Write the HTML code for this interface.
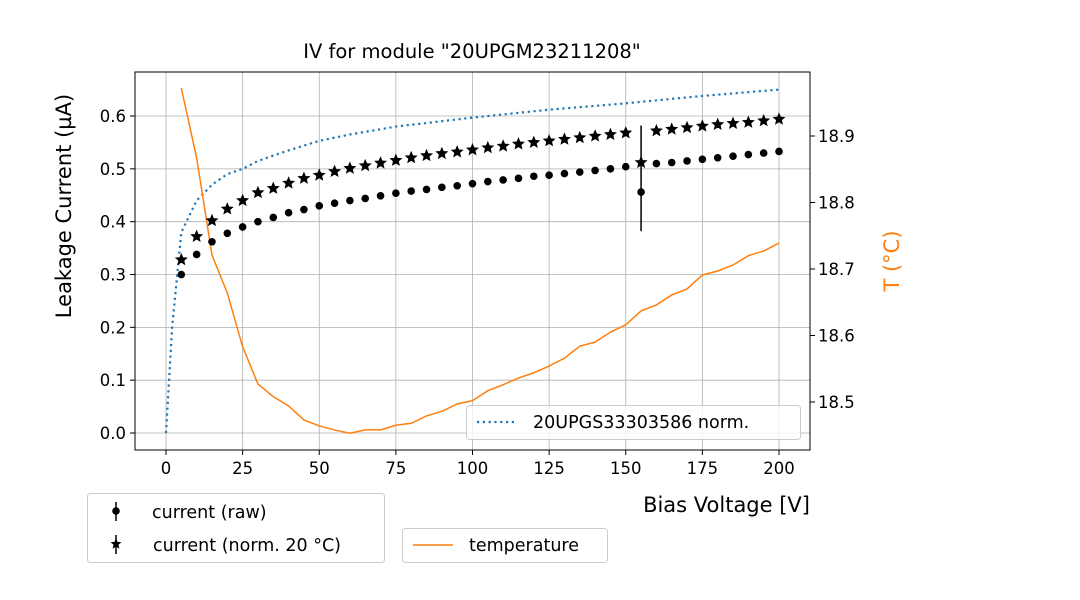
<!DOCTYPE html>
<html><head><meta charset="utf-8"><style>
body{margin:0;background:#fff}
svg{display:block;font-family:"DejaVu Sans","Liberation Sans",sans-serif}
</style></head><body>
<svg id="c" width="1080" height="600" xmlns="http://www.w3.org/2000/svg"></svg>
<script>
const voltages=[5,10,15,20,25,30,35,40,45,50,55,60,65,70,75,80,85,90,95,100,105,110,115,120,125,130,135,140,145,150,155,160,165,170,175,180,185,190,195,200];
const rawCurrent=[0.300,0.338,0.362,0.378,0.390,0.400,0.408,0.417,0.423,0.430,0.435,0.440,0.444,0.449,0.454,0.458,0.461,0.465,0.468,0.472,0.476,0.479,0.482,0.486,0.488,0.491,0.494,0.497,0.500,0.504,0.456,0.510,0.512,0.515,0.518,0.521,0.524,0.527,0.530,0.533];
const normCurrent=[0.328,0.372,0.402,0.424,0.440,0.455,0.463,0.473,0.482,0.488,0.495,0.501,0.506,0.511,0.516,0.521,0.525,0.529,0.532,0.536,0.540,0.543,0.547,0.550,0.553,0.556,0.559,0.562,0.565,0.568,0.512,0.572,0.575,0.578,0.581,0.584,0.586,0.588,0.591,0.594];
const normErr=[0,0,0,0,0,0,0,0,0,0,0,0,0,0,0,0,0,0,0,0,0,0,0,0,0,0,0,0,0,0,0.10,0,0,0,0,0,0,0,0,0];
const temperature=[18.972,18.867,18.721,18.664,18.583,18.527,18.508,18.494,18.473,18.464,18.458,18.453,18.458,18.458,18.465,18.468,18.479,18.486,18.497,18.502,18.517,18.526,18.536,18.544,18.554,18.566,18.584,18.590,18.605,18.616,18.637,18.646,18.661,18.670,18.691,18.697,18.706,18.720,18.727,18.739];
const refV=[0,2,5,10,15,20,25,30,40,50,60,75,100,125,150,175,200];
const refCurrent=[0,0.2,0.38,0.44,0.47,0.49,0.50,0.515,0.535,0.553,0.565,0.58,0.597,0.612,0.624,0.638,0.65];
const xTicks=[0,25,50,75,100,125,150,175,200];
const yTicks=[0.0,0.1,0.2,0.3,0.4,0.5,0.6];
const tTicks=[18.5,18.6,18.7,18.8,18.9];

const L=135,R=810,T=72,B=450;
const X=v=>166+(v-0)*(779-166)/200;
const Y=c=>433-c*528.3;
const YT=t=>136+(18.9-t)*665;
const svg=document.getElementById('c');
const NS='http://www.w3.org/2000/svg';
function mk(tag,attrs,parent){const e=document.createElementNS(NS,tag);for(const k in attrs)e.setAttribute(k,attrs[k]);(parent||svg).appendChild(e);return e;}
function txt(s,attrs,parent){const e=mk('text',attrs,parent);e.textContent=s;return e;}

const grid=mk('g',{});


xTicks.forEach(v=>mk('line',{x1:X(v),x2:X(v),y1:T,y2:B,stroke:'#b0b0b0','stroke-width':0.8},grid));
yTicks.forEach(v=>mk('line',{x1:L,x2:R,y1:Y(v),y2:Y(v),stroke:'#b0b0b0','stroke-width':0.8},grid));

const xa=mk('g',{});


xTicks.forEach(v=>{mk('line',{x1:X(v),x2:X(v),y1:B,y2:B+5,stroke:'#000'},xa);txt(String(v),{x:X(v),y:B+24,'text-anchor':'middle','font-size':16.5},xa);});
const ya=mk('g',{});


yTicks.forEach(v=>{mk('line',{x1:L-5,x2:L,y1:Y(v),y2:Y(v),stroke:'#000'},ya);txt(v.toFixed(1),{x:L-9,y:Y(v)+6,'text-anchor':'end','font-size':16.5},ya);});
const ta=mk('g',{});


tTicks.forEach(v=>{mk('line',{x1:R,x2:R+5,y1:YT(v),y2:YT(v),stroke:'#000'},ta);txt(v.toFixed(1),{x:R+8,y:YT(v)+6,'font-size':16.5},ta);});

let d=refV.map((v,i)=>(i?'L':'M')+X(v)+','+Y(refCurrent[i])).join('');
const ref=mk('path',{d:d,fill:'none',stroke:'#1f77b4','stroke-width':2.2,'stroke-dasharray':'2.2,3.6'});



d=voltages.map((v,i)=>(i?'L':'M')+X(v)+','+YT(temperature[i])).join('');
const tl=mk('path',{d:d,fill:'none',stroke:'#ff7f0e','stroke-width':1.5});



const rg=mk('g',{});


voltages.forEach((v,i)=>{const p=mk('circle',{cx:X(v),cy:Y(rawCurrent[i]),r:3.8,fill:'#000'},rg);

});
function star(cx,cy,r){let s='';for(let k=0;k<10;k++){const a=-Math.PI/2+k*Math.PI/5;const rr=k%2?r*0.45:r;s+=(k?'L':'M')+(cx+rr*Math.cos(a))+','+(cy+rr*Math.sin(a));}return s+'Z';}
const ng=mk('g',{});


voltages.forEach((v,i)=>{
 if(normErr[i]>0){const e=mk('line',{x1:X(v),x2:X(v),y1:Y(normCurrent[i]+normErr[i]*0.7),y2:Y(normCurrent[i]-normErr[i]*1.3),stroke:'#000','stroke-width':1.5},ng);
 
 }
 const p=mk('path',{d:star(X(v),Y(normCurrent[i]),5.8),fill:'#000',stroke:'#000','stroke-width':0.8},ng);
 
 });

mk('rect',{x:L,y:T,width:R-L,height:B-T,fill:'none',stroke:'#000','stroke-width':1});

let e=txt('IV for module "20UPGM23211208"',{x:472,y:58,'text-anchor':'middle','font-size':19.5});

e=txt('Bias Voltage [V]',{x:810,y:512,'text-anchor':'end','font-size':21});

e=txt('Leakage Current (µA)',{x:0,y:0,'text-anchor':'middle','font-size':21,transform:'translate(71,206) rotate(-90)'});

e=txt('T (°C)',{x:0,y:0,'text-anchor':'middle','font-size':21,fill:'#ff7f0e',transform:'translate(899,261) rotate(-90)'});


const lg1=mk('g',{});


mk('rect',{x:466.5,y:405.5,width:334,height:34,rx:3,fill:'#fff','fill-opacity':0.8,stroke:'#ccc'},lg1);
mk('line',{x1:477,x2:517,y1:422,y2:422,stroke:'#1f77b4','stroke-width':2.2,'stroke-dasharray':'2.2,3.6'},lg1);
txt('20UPGS33303586 norm.',{x:533,y:428,'font-size':17.5},lg1);

const lg2=mk('g',{});


mk('rect',{x:87.5,y:493.5,width:297,height:69,rx:3,fill:'#fff',stroke:'#ccc'},lg2);
mk('line',{x1:116,x2:116,y1:502,y2:521,stroke:'#000','stroke-width':1.5},lg2);
mk('circle',{cx:116,cy:511,r:3.8,fill:'#000'},lg2);
txt('current (raw)',{x:152,y:518,'font-size':17.5},lg2);
mk('line',{x1:116,x2:116,y1:535,y2:554,stroke:'#000','stroke-width':1.5},lg2);
mk('path',{d:star(116,544,5.8),fill:'#000'},lg2);
txt('current (norm. 20 °C)',{x:153,y:551,'font-size':17.5},lg2);

const lg3=mk('g',{});


mk('rect',{x:402.5,y:528.5,width:205,height:34,rx:3,fill:'#fff',stroke:'#ccc'},lg3);
mk('line',{x1:413,x2:453,y1:545,y2:545,stroke:'#ff7f0e','stroke-width':1.5},lg3);
txt('temperature',{x:469,y:551,'font-size':17.5},lg3);
</script>
</body></html>
